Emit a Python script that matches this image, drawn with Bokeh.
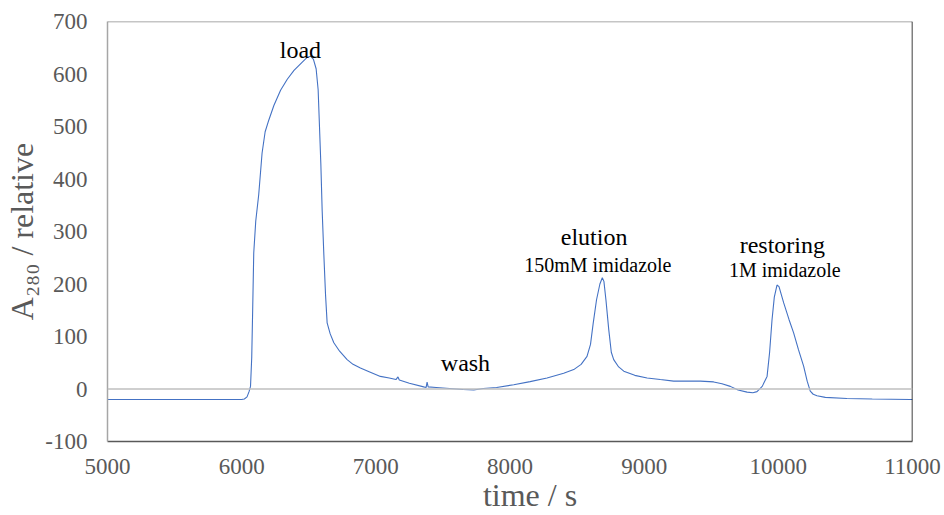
from bokeh.plotting import figure
from bokeh.models import Label, Span, FixedTicker, Range1d
from bokeh.embed import file_html
from bokeh.resources import INLINE

# chromatogram trace (time in s, A280 relative)
time_s = [5000, 5500, 6000, 6020, 6040, 6055, 6066, 6075, 6082, 6090, 6105, 6127,
          6152, 6175, 6202, 6240, 6290, 6340, 6390, 6450, 6490, 6514, 6535, 6555,
          6570, 6580, 6590, 6600, 6612, 6625, 6637, 6660, 6687, 6730, 6786, 6830,
          6885, 6950, 7034, 7100, 7150, 7165, 7175, 7250, 7357, 7375, 7382, 7390,
          7450, 7550, 7650, 7730, 7800, 7900, 8028, 8150, 8276, 8400, 8475, 8530,
          8574, 8600, 8620, 8645, 8670, 8688, 8700, 8715, 8736, 8755, 8773, 8810,
          8848, 8930, 9022, 9120, 9220, 9300, 9419, 9518, 9580, 9642, 9700, 9767,
          9810, 9841, 9880, 9916, 9935, 9953, 9970, 9990, 10005, 10040, 10080,
          10114, 10150, 10189, 10215, 10238, 10260, 10288, 10350, 10511, 10700,
          10983, 11000]
a280 = [-20, -20, -20, -19, -15, -5, 5, 60, 150, 259, 320, 370,
        449, 490, 512, 540, 569, 590, 607, 622, 632, 634, 628, 610,
        570, 500, 430, 340, 259, 180, 126, 105, 88, 72, 56, 47,
        40, 33, 24, 21, 18, 23, 17, 11, 4, 3, 13, 4,
        3, 1, -1, -2, 1, 3, 8, 14, 21, 30, 37, 47,
        62, 85, 125, 170, 200, 212, 205, 170, 113, 70, 56, 42,
        34, 26, 21, 18, 15, 15, 15, 13.5, 10, 5, -2, -6,
        -7, -5, 5, 24, 70, 132, 175, 198, 195, 164, 132,
        107, 75, 43, 15, -4, -10, -13, -16, -18, -19,
        -20, -20]

x_ticks = [5000, 6000, 7000, 8000, 9000, 10000, 11000]
y_ticks = [-100, 0, 100, 200, 300, 400, 500, 600, 700]
y_tick_labels = {t: str(t) for t in y_ticks}

# annotations: (text, x, y, font size)
notes_text = ["load", "wash", "elution", "150mM imidazole", "restoring", "1M imidazole"]
notes_x = [6438, 7668, 8627, 8655, 10030, 10048]
notes_y = [645, 50, 290, 236.5, 274.5, 226.6]
notes_size = ["24px", "24px", "24px", "20px", "24px", "20px"]

SERIF = "Liberation Serif"
GRAY = "#595959"

p = figure(width=944, height=515, output_backend="svg", toolbar_location=None,
           x_range=Range1d(x_ticks[0], x_ticks[-1]), y_range=Range1d(y_ticks[0], y_ticks[-1]),
           min_border_left=107, min_border_right=32, min_border_top=21, min_border_bottom=73)
p.outline_line_color = None
p.xgrid.visible = False
p.ygrid.visible = False
p.background_fill_color = "white"
p.border_fill_color = "white"

p.axis.major_tick_out = 0
p.axis.major_tick_in = 0
p.axis.minor_tick_out = 0
p.axis.minor_tick_in = 0
p.axis.major_label_text_font = SERIF
p.axis.major_label_text_font_size = "23px"
p.axis.major_label_text_color = GRAY
p.axis.axis_label_text_font = SERIF
p.axis.axis_label_text_font_size = "32px"
p.axis.axis_label_text_font_style = "normal"
p.axis.axis_label_text_color = GRAY

p.xaxis.ticker = FixedTicker(ticks=x_ticks)
p.yaxis.ticker = FixedTicker(ticks=y_ticks)
p.yaxis.major_label_overrides = y_tick_labels
p.xaxis.major_label_standoff = 17
p.yaxis.major_label_standoff = 20
p.yaxis.axis_line_color = "#a6a6a6"
p.yaxis.axis_line_width = 1.5
p.xaxis.axis_line_color = GRAY
p.xaxis.axis_line_width = 1.5

p.xaxis.axis_label = "\u00a0\u00a0\u00a0\u00a0\u00a0time / s"
p.xaxis.axis_label_standoff = 0
p.yaxis.axis_label = "A\u2082\u2088\u2080 / relative"
p.yaxis.axis_label_standoff = 2

# frame top / right and zero line
p.add_layout(Span(location=y_ticks[-1], dimension="width", line_color="#8c8c8c", line_width=1.5))
p.add_layout(Span(location=x_ticks[-1], dimension="height", line_color="black", line_width=1.5))
p.add_layout(Span(location=0, dimension="width", line_color="#bfbfbf", line_width=1.5))

p.line(time_s, a280, line_color="#4472C4", line_width=1.1)

for t, x, y, s in zip(notes_text, notes_x, notes_y, notes_size):
    p.add_layout(Label(x=x, y=y, text=t, text_font=SERIF, text_font_size=s,
                       text_color="black", text_align="center", text_baseline="alphabetic"))

open("out.html", "w").write(file_html(p, INLINE))
